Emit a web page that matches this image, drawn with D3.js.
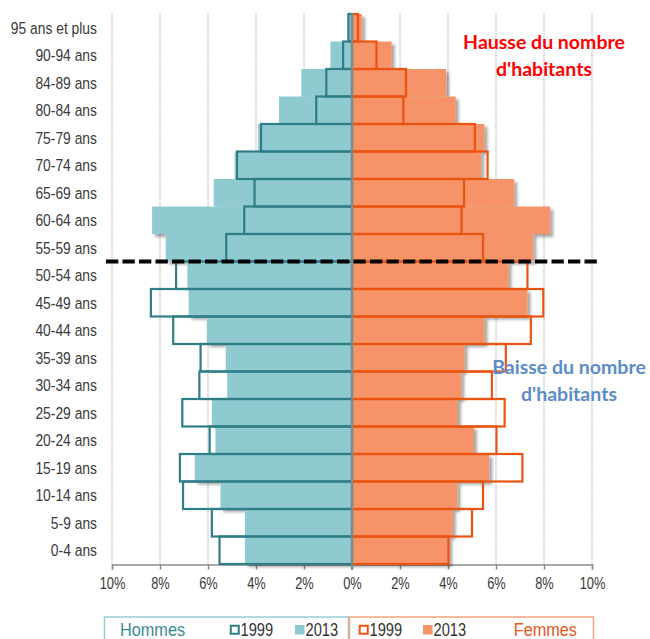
<!DOCTYPE html>
<html>
<head>
<meta charset="utf-8">
<script src="https://cdn.jsdelivr.net/npm/d3@7"></script>
<style>
  html, body { margin: 0; padding: 0; background: #fff; }
  svg { display: block; }
  .narrow { font-family: "Liberation Sans", Arial, sans-serif; }
</style>
</head>
<body>
<svg id="chart" width="650" height="639"></svg>
<script>
// Age groups, oldest at the top
const ages = ["95 ans et plus", "90-94 ans", "84-89 ans", "80-84 ans", "75-79 ans", "70-74 ans",
  "65-69 ans", "60-64 ans", "55-59 ans", "50-54 ans", "45-49 ans", "40-44 ans", "35-39 ans",
  "30-34 ans", "25-29 ans", "20-24 ans", "15-19 ans", "10-14 ans", "5-9 ans", "0-4 ans"];

// Share of the population in each age group (%)
const hommes1999 = [0.15, 0.37, 1.07, 1.49, 3.79, 4.79, 4.06, 4.49, 5.24, 7.33, 8.38, 7.45, 6.31, 6.36, 7.07, 5.93, 7.17, 7.04, 5.84, 5.52];
const hommes2013 = [0.15, 0.90, 2.11, 3.04, 3.91, 4.89, 5.76, 8.33, 7.76, 6.86, 6.81, 6.05, 5.26, 5.20, 5.84, 5.69, 6.55, 5.48, 4.46, 4.46];
const femmes1999 = [0.25, 1.02, 2.25, 2.14, 5.12, 5.65, 4.67, 4.56, 5.46, 7.31, 7.97, 7.45, 6.41, 5.83, 6.36, 6.02, 7.10, 5.46, 5.00, 4.02];
const femmes2013 = [0.42, 1.65, 3.92, 4.32, 5.52, 5.38, 6.76, 8.26, 7.55, 6.52, 7.31, 5.52, 4.69, 4.55, 4.41, 5.08, 5.72, 4.39, 4.20, 4.05];

const tickValues = [-10, -8, -6, -4, -2, 0, 2, 4, 6, 8, 10];

// The 50-54 / 55-59 boundary separates rising and falling age groups
const splitBetween = ["55-59 ans", "50-54 ans"];

const colors = {
  hFill: "#8fcad1", hLine: "#2f7d86",
  fFill: "#f79367", fLine: "#ea5410",
  center: "#6b9296", grid: "#9a9a9a", text: "#3a3a3a"
};

const svg = d3.select("#chart");
const x = d3.scaleLinear().domain([-10, 10]).range([112, 592]);
const y = d3.scaleBand().domain(ages).range([14, 564]).padding(0);

// condensed text: regular sans squeezed horizontally
function narrowText(sel, px, py, sx) {
  return sel.attr("class", "narrow")
    .attr("transform", `translate(${px},${py}) scale(${sx},1)`);
}

// drop shadow used under the 2013 bars
const defs = svg.append("defs");
const f = defs.append("filter").attr("id", "shadow")
  .attr("x", "-10%").attr("y", "-10%").attr("width", "130%").attr("height", "130%");
f.append("feGaussianBlur").attr("in", "SourceAlpha").attr("stdDeviation", 1.8).attr("result", "b");
f.append("feOffset").attr("in", "b").attr("dx", 3).attr("dy", 3).attr("result", "o");
f.append("feFlood").attr("flood-color", "#000").attr("flood-opacity", 0.35).attr("result", "c");
f.append("feComposite").attr("in", "c").attr("in2", "o").attr("operator", "in").attr("result", "s");
const m = f.append("feMerge");
m.append("feMergeNode").attr("in", "s");
m.append("feMergeNode").attr("in", "SourceGraphic");

// vertical dotted gridlines
svg.append("g").selectAll("line")
  .data(tickValues.filter(d => d !== 0))
  .join("line")
  .attr("x1", d => x(d)).attr("x2", d => x(d))
  .attr("y1", 14).attr("y2", 564)
  .attr("stroke", colors.grid).attr("stroke-width", 1)
  .attr("stroke-dasharray", "1.2,1.2");

// bottom axis
const axis = svg.append("g")
  .attr("transform", `translate(0,${564.5})`)
  .call(d3.axisBottom(x).tickValues(tickValues).tickSize(5).tickPadding(8)
    .tickFormat(d => Math.abs(d) + "%"));
axis.select(".domain").attr("stroke", "#8c8c8c").attr("stroke-width", 1.5);
axis.selectAll(".tick line").attr("stroke", "#8c8c8c").attr("stroke-width", 1.5);
axis.selectAll(".tick text").attr("class", "narrow")
  .attr("font-size", 16.5).attr("fill", colors.text)
  .attr("transform", "scale(0.78,1)");

// 2013 filled bars
const rows = ages.map((a, i) => ({ age: a, h99: hommes1999[i], h13: hommes2013[i], f99: femmes1999[i], f13: femmes2013[i] }));

svg.append("g").attr("filter", "url(#shadow)").selectAll("rect")
  .data(rows).join("rect")
  .attr("x", d => x(-d.h13)).attr("width", d => x(0) - x(-d.h13))
  .attr("y", d => y(d.age)).attr("height", y.bandwidth())
  .attr("fill", colors.hFill);

svg.append("g").attr("filter", "url(#shadow)").selectAll("rect")
  .data(rows).join("rect")
  .attr("x", x(0)).attr("width", d => x(d.f13) - x(0))
  .attr("y", d => y(d.age)).attr("height", y.bandwidth())
  .attr("fill", colors.fFill);

// 1999 outlined bars
svg.append("g").selectAll("rect")
  .data(rows).join("rect")
  .attr("x", d => x(-d.h99)).attr("width", d => x(0) - x(-d.h99))
  .attr("y", d => y(d.age)).attr("height", y.bandwidth())
  .attr("fill", "none").attr("stroke", colors.hLine).attr("stroke-width", 2.2);

svg.append("g").selectAll("rect")
  .data(rows).join("rect")
  .attr("x", x(0)).attr("width", d => x(d.f99) - x(0))
  .attr("y", d => y(d.age)).attr("height", y.bandwidth())
  .attr("fill", "none").attr("stroke", colors.fLine).attr("stroke-width", 2.2);

// centre axis line
svg.append("line")
  .attr("x1", x(0)).attr("x2", x(0)).attr("y1", 13).attr("y2", 570)
  .attr("stroke", colors.center).attr("stroke-width", 2);

// age labels
svg.append("g").selectAll("text")
  .data(ages).join("text")
  .each(function (d) {
    narrowText(d3.select(this), 97, y(d) + y.bandwidth() / 2, 0.84);
  })
  .attr("dy", "0.36em").attr("text-anchor", "end")
  .attr("font-size", 16.5).attr("fill", colors.text)
  .text(d => d);

// dashed split line
const ySplit = y(splitBetween[1]);
svg.append("line")
  .attr("x1", 106).attr("x2", 598).attr("y1", ySplit).attr("y2", ySplit)
  .attr("stroke", "#000").attr("stroke-width", 4)
  .attr("stroke-dasharray", "12.3,4.2");

// annotations
const note = (lines, cx, y0, color) => {
  const t = svg.append("text")
    .attr("font-family", "Lato, 'Open Sans', sans-serif").attr("font-weight", "bold")
    .attr("font-size", 19.5).attr("fill", color).attr("text-anchor", "middle");
  lines.forEach((l, i) => t.append("tspan").attr("x", cx).attr("y", y0 + i * 26.5).text(l));
};
note(["Hausse du nombre", "d'habitants"], 544, 49, "#ff0000");
note(["Baisse du nombre", "d'habitants"], 569, 374, "#5b8bc8");

// legend
const lg = svg.append("g");
lg.append("rect").attr("x", 104.5).attr("y", 617).attr("width", 244).attr("height", 40)
  .attr("fill", "#fff").attr("stroke", "#97ced5").attr("stroke-width", 1.5);
lg.append("rect").attr("x", 349.5).attr("y", 617).attr("width", 244).attr("height", 40)
  .attr("fill", "#fff").attr("stroke", "#f6a27d").attr("stroke-width", 1.5);

const legendY = 635.5;
narrowText(lg.append("text"), 120, legendY, 0.88)
  .attr("font-size", 18.5).attr("fill", "#3b8a93").text("Hommes");
narrowText(lg.append("text"), 577, legendY, 0.88)
  .attr("text-anchor", "end").attr("font-size", 18.5).attr("fill", "#e8561a").text("Femmes");

const items = [
  { x: 230, label: "1999", fill: "none", stroke: colors.hLine },
  { x: 295, label: "2013", fill: colors.hFill, stroke: "none" },
  { x: 359, label: "1999", fill: "none", stroke: colors.fLine },
  { x: 423, label: "2013", fill: colors.fFill, stroke: "none" }
];
items.forEach(it => {
  const s = it.stroke === "none" ? 9.5 : 8;
  const off = it.stroke === "none" ? 0 : 0.75;
  lg.append("rect").attr("x", it.x + off).attr("y", legendY - 10.5 + off)
    .attr("width", s).attr("height", s)
    .attr("fill", it.fill).attr("stroke", it.stroke).attr("stroke-width", 2);
  narrowText(lg.append("text"), it.x + 10.5, legendY, 0.84)
    .attr("font-size", 17.5).attr("fill", "#333").text(it.label);
});
</script>
</body>
</html>
